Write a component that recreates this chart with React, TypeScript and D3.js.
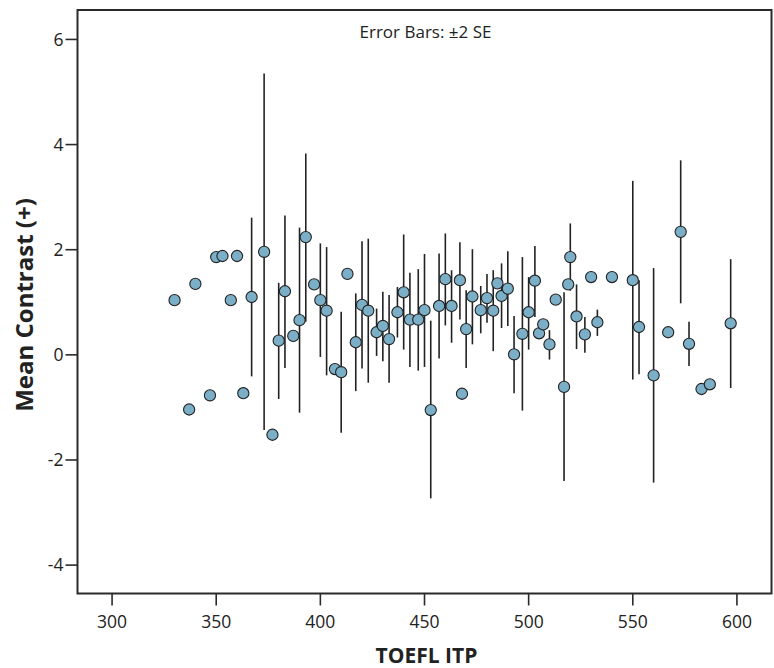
import React from "react";
import * as d3 from "d3";

const toefl = [330, 337, 340, 347, 350, 353, 357, 360, 363, 367, 373, 377, 380, 383, 387, 390, 393, 397, 400, 403, 407, 410, 413, 417, 420, 423, 427, 430, 433, 437, 440, 443, 447, 450, 453, 457, 460, 463, 467, 468, 470, 473, 477, 480, 483, 485, 487, 490, 493, 497, 500, 503, 505, 507, 510, 513, 517, 519, 520, 523, 527, 530, 533, 540, 550, 553, 560, 567, 573, 577, 583, 587, 597];
const meanContrast = [1.04, -1.04, 1.35, -0.77, 1.86, 1.88, 1.04, 1.88, -0.73, 1.10, 1.96, -1.52, 0.27, 1.21, 0.36, 0.66, 2.24, 1.34, 1.04, 0.84, -0.27, -0.33, 1.54, 0.24, 0.95, 0.84, 0.43, 0.55, 0.30, 0.81, 1.19, 0.67, 0.67, 0.85, -1.05, 0.93, 1.44, 0.93, 1.42, -0.74, 0.49, 1.11, 0.85, 1.08, 0.84, 1.36, 1.12, 1.26, 0.01, 0.40, 0.81, 1.41, 0.41, 0.58, 0.20, 1.05, -0.61, 1.34, 1.86, 0.73, 0.39, 1.48, 0.62, 1.48, 1.42, 0.53, -0.39, 0.43, 2.34, 0.21, -0.65, -0.56, 0.60];
const upper: (number | null)[] = [null, null, null, null, null, null, null, null, null, 2.61, 5.35, null, 1.37, 2.65, null, 2.42, 3.83, null, 2.12, 2.05, null, 0.82, null, 1.17, 2.16, 2.21, 0.88, 1.20, 1.14, 1.29, 2.29, 1.56, 1.63, 1.92, 0.65, 1.93, 2.31, 1.61, 2.14, null, 1.23, 2.01, 1.31, 1.54, 1.61, null, 1.74, 1.97, 0.74, 1.86, 1.48, 2.07, null, null, 0.47, null, 1.19, null, 2.50, 1.34, 0.72, null, 0.86, null, 3.31, 1.42, 1.65, null, 3.70, 0.63, null, null, 1.82];
const lower: (number | null)[] = [null, null, null, null, null, null, null, null, null, -0.41, -1.43, null, -0.84, -0.25, null, -1.10, 0.63, null, -0.04, -0.39, null, -1.48, null, -0.69, -0.26, -0.53, -0.02, -0.12, -0.53, 0.33, 0.10, -0.23, -0.30, -0.23, -2.73, -0.07, 0.56, 0.23, 0.67, null, -0.25, 0.20, 0.41, 0.61, 0.07, null, 0.51, 0.55, -0.73, -1.06, 0.10, 0.72, null, null, -0.09, null, -2.40, null, 1.22, 0.11, 0.04, null, 0.36, null, -0.47, -0.37, -2.43, null, 0.98, -0.21, null, null, -0.63];

const xTicks = [300, 350, 400, 450, 500, 550, 600];
const yTicks = [-4, -2, 0, 2, 4, 6];

const W = 774;
const H = 668;
const plot = { left: 77.5, right: 771.5, top: 10, bottom: 593.5 };
const FONT = "'Open Sans', 'DejaVu Sans', sans-serif";

export default function App() {
  const x = d3.scaleLinear().domain([283.4, 616.6]).range([plot.left, plot.right]);
  const y = d3.scaleLinear().domain([-4.54, 6.56]).range([plot.bottom, plot.top]);

  return (
    <svg width={W} height={H} style={{ position: "absolute", left: 0, top: 0, background: "#fff" }}>
      <rect x={0} y={0} width={W} height={H} fill="#fff" />
      {/* error bars */}
      {toefl.map((t, i) =>
        upper[i] !== null && lower[i] !== null ? (
          <line key={"e" + i} x1={x(t)} x2={x(t)} y1={y(upper[i] as number)} y2={y(lower[i] as number)} stroke="#222" strokeWidth={1.6} />
        ) : null
      )}
      {/* points */}
      {toefl.map((t, i) => (
        <circle key={"p" + i} cx={x(t)} cy={y(meanContrast[i])} r={5.6} fill="#7aafc7" stroke="#222" strokeWidth={1.1} />
      ))}
      {/* frame */}
      <rect x={plot.left} y={plot.top} width={plot.right - plot.left} height={plot.bottom - plot.top} fill="none" stroke="#2a2a2a" strokeWidth={2} />
      {/* y ticks */}
      {yTicks.map((v) => (
        <g key={"y" + v}>
          <line x1={plot.left - 12} x2={plot.left} y1={y(v)} y2={y(v)} stroke="#2a2a2a" strokeWidth={1.6} />
          <text x={plot.left - 14} y={y(v)} dy="0.36em" textAnchor="end" fontFamily={FONT} fontSize={17.5} fill="#222">
            {v}
          </text>
        </g>
      ))}
      {/* x ticks */}
      {xTicks.map((v) => (
        <g key={"x" + v}>
          <line x1={x(v)} x2={x(v)} y1={plot.bottom} y2={plot.bottom + 12} stroke="#2a2a2a" strokeWidth={1.6} />
          <text x={x(v)} y={628} textAnchor="middle" fontFamily={FONT} fontSize={17.5} fill="#222">
            {v}
          </text>
        </g>
      ))}
      <text x={425.5} y={37.5} textAnchor="middle" fontFamily={FONT} fontSize={17} fill="#222">
        Error Bars: ±2 SE
      </text>
      <text x={426.5} y={663} textAnchor="middle" fontFamily={FONT} fontSize={21} fontWeight="bold" fill="#222">
        TOEFL ITP
      </text>
      <text transform={`translate(33,${305}) rotate(-90)`} textAnchor="middle" fontFamily={FONT} fontSize={24} fontWeight="bold" fill="#222">
        Mean Contrast (+)
      </text>
    </svg>
  );
}
